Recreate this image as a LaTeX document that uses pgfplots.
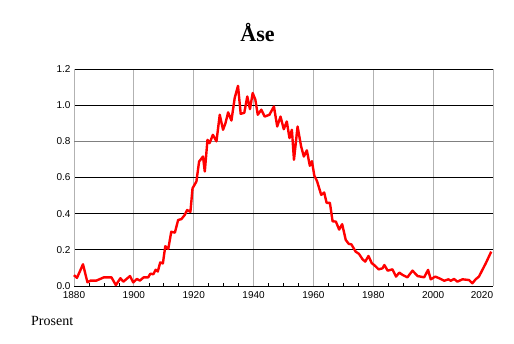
\documentclass[border=0pt]{standalone}
\usepackage{fontspec}
\setmainfont{Liberation Sans}
\newfontfamily\seriffont{Liberation Serif}
\usepackage{pgfplots}
\usepackage{pgfplotstable}
\pgfplotsset{compat=1.18}
\pgfplotstableread{
year value
1880.0 0.060
1881.0 0.045
1883.0 0.120
1884.5 0.020
1885.5 0.030
1887.5 0.030
1890.0 0.048
1892.5 0.048
1894.0 0.005
1895.5 0.043
1896.5 0.024
1898.7 0.055
1899.8 0.020
1901.0 0.039
1902.0 0.030
1903.3 0.048
1904.8 0.048
1905.5 0.068
1906.5 0.065
1907.3 0.090
1908.0 0.080
1908.8 0.130
1909.7 0.125
1910.5 0.220
1911.5 0.205
1912.5 0.300
1913.7 0.295
1914.8 0.365
1915.9 0.370
1917.0 0.393
1917.8 0.420
1918.9 0.410
1919.6 0.540
1920.9 0.578
1921.8 0.688
1923.1 0.716
1923.7 0.633
1924.6 0.808
1925.3 0.790
1926.4 0.836
1927.6 0.800
1928.7 0.947
1929.8 0.864
1930.6 0.900
1931.5 0.960
1932.6 0.915
1933.7 1.040
1934.8 1.107
1935.7 0.952
1936.9 0.958
1937.9 1.048
1938.8 0.978
1939.7 1.067
1940.6 1.030
1941.4 0.947
1942.6 0.975
1943.7 0.937
1945.3 0.947
1946.8 0.993
1947.9 0.882
1949.0 0.937
1950.1 0.867
1951.1 0.910
1952.0 0.818
1952.8 0.864
1953.5 0.698
1954.7 0.882
1955.9 0.771
1956.8 0.716
1957.8 0.750
1958.8 0.665
1959.5 0.690
1960.3 0.610
1961.2 0.580
1962.6 0.504
1963.6 0.517
1964.4 0.460
1965.5 0.460
1966.4 0.358
1967.5 0.356
1968.6 0.312
1969.6 0.342
1970.8 0.255
1971.8 0.233
1972.7 0.230
1974.1 0.190
1975.2 0.178
1976.4 0.148
1977.3 0.135
1978.4 0.166
1979.5 0.126
1980.3 0.116
1981.8 0.092
1983.1 0.098
1983.7 0.116
1984.8 0.085
1986.4 0.092
1987.6 0.052
1988.7 0.074
1989.8 0.061
1991.4 0.048
1993.1 0.085
1994.8 0.055
1997.0 0.048
1998.3 0.089
1999.2 0.037
2000.7 0.052
2002.0 0.043
2003.7 0.029
2005.1 0.037
2005.9 0.029
2007.0 0.039
2008.1 0.024
2009.8 0.037
2012.0 0.033
2013.1 0.015
2014.2 0.037
2015.3 0.052
2017.6 0.126
2019.4 0.190
}\asedata
\begin{document}
\begin{tikzpicture}
\useasboundingbox (0pt,0pt) rectangle (514pt,343pt);
\begin{axis}[
  at={(74pt,57pt)}, anchor=south west,
  scale only axis, width=419pt, height=217pt,
  xmin=1880, xmax=2020, ymin=0, ymax=1.2,
  axis x line*=bottom, axis y line*=left,
  x axis line style={black, line width=0.8pt, -},
  y axis line style={gray!60, line width=0.8pt, -},
  xtick={1880,1900,...,2000},
  extra x ticks={2020},
  extra x tick style={grid=major, xticklabel style={xshift=-11pt}},
  minor x tick num=3,
  ytick={0,0.2,0.4,0.6,0.8,1.0,1.2},
  xmajorgrids, ymajorgrids,
  x grid style={gray!60, line width=0.8pt},
  y grid style={black, line width=0.8pt},
  major tick length=0pt, minor tick length=3pt,
  tick align=inside,
  minor x tick style={black, line width=0.6pt},
  ytick style={draw=none},
  tick label style={font=\fontsize{10}{12}\selectfont},
  /pgf/number format/assume math mode=true,
  xticklabel style={/pgf/number format/set thousands separator={}, anchor=north, yshift=-1.5pt},
  yticklabel style={/pgf/number format/.cd, fixed, fixed zerofill, precision=1},
  clip=false,
]
\draw[black!50, line width=1.3pt] (axis cs:1880,0.8) -- (axis cs:2020,0.8);
\addplot[red, line width=2.4pt, line join=round] table[x=year, y=value] {\asedata};
\end{axis}
\node[font=\seriffont\bfseries\fontsize{22}{26}\selectfont, anchor=base] at (257.5pt,301.3pt) {Åse};
\node[font=\seriffont\fontsize{14}{17}\selectfont, anchor=base west, inner sep=0pt] at (31pt,18pt) {Prosent};
\end{tikzpicture}
\end{document}
